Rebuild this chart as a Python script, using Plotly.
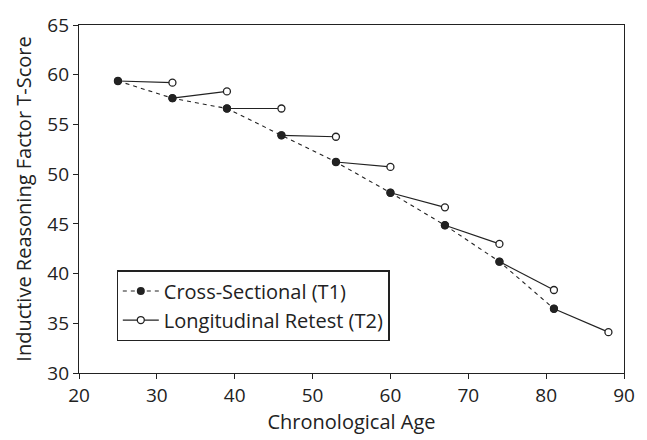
import plotly.graph_objects as go

ages_t1 = [25, 32, 39, 46, 53, 60, 67, 74, 81]
cross_sectional = [59.37, 57.64, 56.6, 53.9, 51.22, 48.13, 44.86, 41.2, 36.46]
ages_t2 = [32, 39, 46, 53, 60, 67, 74, 81, 88]
longitudinal = [59.2, 58.32, 56.6, 53.76, 50.73, 46.66, 42.98, 38.35, 34.11]

x_tick_vals = [20, 30, 40, 50, 60, 70, 80, 90]
y_tick_vals = [30, 35, 40, 45, 50, 55, 60, 65]

FONT = "Open Sans"
INK = "#222222"
FS = 19
FT = 20

# build segments T1 -> T2 for each cohort
seg_x, seg_y = [], []
for a1, v1, a2, v2 in zip(ages_t1, cross_sectional, ages_t2, longitudinal):
    seg_x += [a1, a2, None]
    seg_y += [v1, v2, None]

fig = go.Figure()
fig.add_trace(go.Scatter(
    x=seg_x, y=seg_y, mode="lines+markers",
    name="Longitudinal Retest (T2)",
    line=dict(color=INK, width=1.2),
    marker=dict(symbol="circle", size=7, color="white",
                line=dict(color=INK, width=1.3)),
    legendrank=2,
))
fig.add_trace(go.Scatter(
    x=ages_t1, y=cross_sectional, mode="lines+markers",
    name="Cross-Sectional (T1)",
    line=dict(color=INK, width=1.1, dash="4px,4px"),
    marker=dict(symbol="circle", size=8, color=INK),
    legendrank=1,
))

axis_common = dict(
    showgrid=False, zeroline=False, showline=True, linecolor=INK, linewidth=1.4,
    mirror=True, ticks="outside", ticklen=5, tickwidth=1.3, tickcolor=INK,
    tickfont=dict(family=FONT, size=FS, color=INK),
)
fig.update_xaxes(range=[20, 90], tickvals=x_tick_vals,
                 title=dict(text="Chronological Age", font=dict(family=FONT, size=FT, color=INK), standoff=3),
                 **axis_common)
fig.update_yaxes(range=[30, 65], tickvals=y_tick_vals,
                 title=dict(text="Inductive Reasoning Factor T-Score", font=dict(family=FONT, size=FT, color=INK), standoff=10),
                 **axis_common)

fig.update_layout(
    width=647, height=440,
    margin=dict(l=79, r=12, t=15, b=67),
    plot_bgcolor="white", paper_bgcolor="white",
    font=dict(family=FONT, color=INK),
    legend=dict(x=0.069, y=0.295, xanchor="left", yanchor="top",
                bordercolor=INK, borderwidth=1.2, bgcolor="white",
                font=dict(family=FONT, size=FT, color=INK),
                tracegroupgap=0, itemwidth=36),
    showlegend=True,
)

fig.write_html("out.html")
